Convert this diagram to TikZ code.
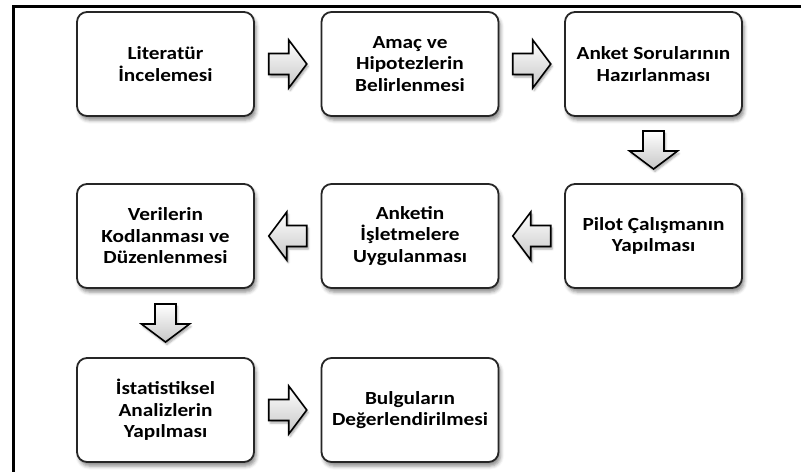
\documentclass[tikz,border=0pt]{standalone}
\usepackage{fontspec}
\setmainfont{Carlito}[FakeStretch=1.15]
\usetikzlibrary{calc,shadows.blur}

\tikzset{
  stage/.style={draw=black!85, line width=1.8pt, rounded corners=10pt, fill=white,
    minimum width=177pt, minimum height=104pt, align=center, inner sep=0pt,
    font=\fontsize{18.5}{21.5}\selectfont\bfseries,
    blur shadow={shadow xshift=2pt, shadow yshift=-4pt, shadow blur radius=3.5pt, shadow opacity=45}},
  blockarrow/.style={draw=black, line width=1.6pt, line join=miter,
    top color=white, bottom color=black!22,
    blur shadow={shadow xshift=1.5pt, shadow yshift=-2.5pt, shadow blur radius=2pt, shadow opacity=35}},
  flow/.pic={\path[blockarrow] (-19,-10.5) -- (1,-10.5) -- (1,-24) -- (19,0) -- (1,24) -- (1,10.5) -- (-19,10.5) -- cycle;}
}

\begin{document}
\begin{tikzpicture}[x=1pt,y=1pt]
\useasboundingbox (0,0) rectangle (801,-472);

% outer frame: top and left rules only
\draw[line width=3.2pt] (801,-6.5) -- (13.5,-6.5) -- (13.5,-472);

% first row (left to right)
\node[stage] (lit)  at (165.5,-64) {Literatür\\İncelemesi};
\node[stage] (amac) at (410,-64)   {Amaç ve\\Hipotezlerin\\Belirlenmesi};
\node[stage] (ank)  at (653.5,-64) {Anket Sorularının\\Hazırlanması};

% second row (right to left)
\node[stage] (pil)  at (653.5,-236) {Pilot Çalışmanın\\Yapılması};
\node[stage] (isl)  at (410,-236)   {Anketin\\İşletmelere\\Uygulanması};
\node[stage] (ver)  at (165.5,-236) {Verilerin\\Kodlanması ve\\Düzenlenmesi};

% third row (left to right)
\node[stage] (ist)  at (165.5,-410) {İstatistiksel\\Analizlerin\\Yapılması};
\node[stage] (bul)  at (410,-410)   {Bulguların\\Değerlendirilmesi};

% block arrows between consecutive stages
\pic at ($(lit.east)!0.5!(amac.west)$) {flow};
\pic at ($(amac.east)!0.5!(ank.west)$) {flow};
\pic[rotate=-90] at ($(ank.south)!0.5!(pil.north)$) {flow};
\pic[rotate=180] at ($(pil.west)!0.5!(isl.east)$) {flow};
\pic[rotate=180] at ($(isl.west)!0.5!(ver.east)$) {flow};
\pic[rotate=-90] at ($(ver.south)!0.5!(ist.north)$) {flow};
\pic at ($(ist.east)!0.5!(bul.west)$) {flow};
\end{tikzpicture}
\end{document}
